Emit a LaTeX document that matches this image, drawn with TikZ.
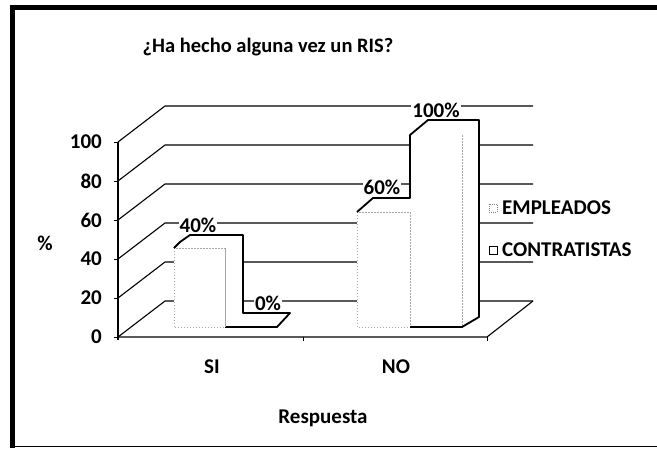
\documentclass[tikz,border=0pt]{standalone}
\usepackage{fontspec}
\setmainfont{Carlito}
\begin{document}
\begin{tikzpicture}[x=1pt,y=-1pt,
  lbl/.style={font=\bfseries\fontsize{21}{24}\selectfont, inner sep=0pt},
  grid/.style={line width=1.1pt},
  bfront/.style={draw=gray!70, dash pattern=on 1.5pt off 1.5pt, line width=0.6pt, fill=white},
  bedge/.style={line width=1.8pt, line join=round}]
\useasboundingbox (0,0) rectangle (657,448);
\fill[white] (0,0) rectangle (657,448);
% frame
\draw[line width=5pt] (12,448) -- (12,7) -- (657,7);
\draw[line width=1pt] (12,446) -- (657,446);
% title
\node[font=\bfseries\fontsize{20.5}{24}\selectfont, inner sep=0pt] (title) at (268,47) {¿Ha hecho alguna vez un RIS?};
% walls and gridlines
\foreach \v/\y in {0/337,20/298,40/259,60/220,80/181,100/142}{
  \draw[grid] (118,\y) -- (165,\y-36) -- (533,\y-36);
  \node[lbl, anchor=east] (t\v) at (102,\y) {\v};
  \draw[line width=0.8pt] (114,\y) -- (118,\y);
}
\draw[line width=1.2pt] (118,142) -- (118,340);
% floor
\draw[grid] (118,337) -- (487,337) -- (533,301);
\draw[line width=0.8pt] (303,337) -- (303,341) (487,337) -- (487,341);
% axis labels
\node[lbl] (ylab) at (45,243) {\%};
\node[lbl] (si) at (212,367) {SI};
\node[lbl] (no) at (396,367) {NO};
\node[lbl] (xlab) at (323,418) {Respuesta};
% SI bars
\fill[white] (174,327) -- (174,248) -- (190,235) -- (243,235) -- (243,313) -- (290,313) -- (277,327) -- cycle;
\draw[bfront] (174,327) rectangle (225,248);
\draw[bfront] (225,327) -- (277,327);
\draw[bedge] (174,248) -- (180,242) -- (190,235) -- (243,235) -- (243,313) -- (290,313) -- (277,327) -- (225,327);
\draw[gray!70, dash pattern=on 1.5pt off 1.5pt, line width=0.6pt] (225,248) -- (225,327);
% NO bars
\fill[white] (357,327) -- (357,212) -- (373,197) -- (410,197) -- (410,135) -- (428,120) -- (479,120) -- (479,317) -- (462,327) -- cycle;
\draw[bfront] (357,327) rectangle (410,212);
\draw[bfront] (410,212) -- (410,327);
\draw[gray!70, dash pattern=on 1.5pt off 1.5pt, line width=0.6pt] (462,135) -- (462,327);
\draw[bedge] (357,212) -- (373,198) -- (410,198) -- (410,135) -- (428,120) -- (479,120) -- (479,317) -- (462,327) -- (410,327);
% value labels
\node[lbl, fill=white, inner xsep=1pt] (v1) at (198,225) {40\%};
\node[lbl, fill=white, inner xsep=1pt] (v2) at (268,303) {0\%};
\node[lbl, fill=white, inner xsep=1pt] (v3) at (382,187) {60\%};
\node[lbl, fill=white, inner xsep=1pt] (v4) at (436,110) {100\%};
% legend
\draw[gray, dash pattern=on 1pt off 1pt, line width=0.6pt] (489,204) rectangle (497,212);
\node[lbl, anchor=west] (l1) at (502,208) {EMPLEADOS};
\draw[line width=0.9pt] (489,246) rectangle (497,254);
\node[lbl, anchor=west] (l2) at (502,250) {CONTRATISTAS};
\end{tikzpicture}
\end{document}
